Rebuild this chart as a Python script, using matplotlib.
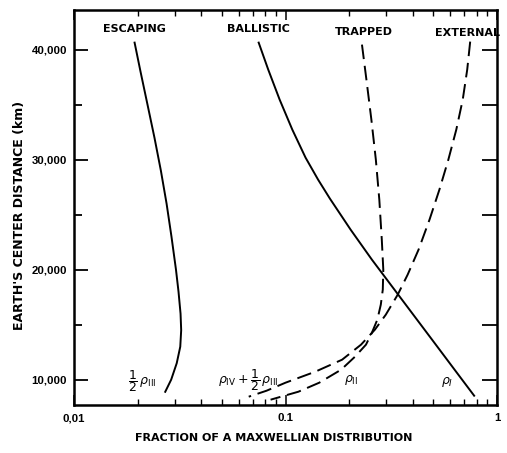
import matplotlib
matplotlib.use("Agg")
import matplotlib.pyplot as plt
from matplotlib.ticker import FixedLocator, LogLocator, NullFormatter
import numpy as np

# Fraction of a Maxwellian distribution vs. geocentric distance (km)
escaping_frac = [0.01934, 0.02063, 0.02226, 0.02401, 0.02575, 0.02740, 0.02890, 0.03035,
                 0.03120, 0.03190, 0.03212, 0.03180, 0.03060, 0.02880, 0.02700]
escaping_km = [40636, 38000, 35000, 32000, 29000, 26000, 23000, 20000,
               18000, 16000, 14500, 13000, 11500, 10000, 8900]

ballistic_frac = [0.07467, 0.08286, 0.09382, 0.1077, 0.1244, 0.1426, 0.1622,
                  0.2032, 0.2562, 0.3554, 0.4932, 0.6302, 0.7798]
ballistic_km = [40636, 38182, 35455, 32727, 30182, 28182, 26455,
                23636, 20909, 17273, 13636, 10909, 8545]

trapped_frac = [0.2299, 0.2413, 0.2547, 0.2674, 0.2777, 0.2853, 0.2900, 0.2884,
                0.2822, 0.2718, 0.2562, 0.2401, 0.2131, 0.1832, 0.1444, 0.1151, 0.0850]
trapped_km = [40455, 37273, 33636, 30000, 26364, 22727, 20000, 18182,
              16818, 15455, 14273, 13182, 12091, 10909, 9727, 8909, 8182]

external_frac = [0.7468, 0.7231, 0.6887, 0.6420, 0.5888, 0.5342, 0.4796, 0.4257, 0.3780,
                 0.3393, 0.2980, 0.2646, 0.2275, 0.1852, 0.1383, 0.1000, 0.0814, 0.0670]
external_km = [40727, 38182, 35455, 32727, 30000, 27273, 24545, 21818, 19545,
               17727, 15909, 14545, 13182, 11818, 10727, 9727, 9000, 8455]

y_ticks = [10000, 20000, 30000, 40000]
y_ticklabels = ["10,000", "20,000", "30,000", "40,000"]
x_ticks = [0.01, 0.1, 1]
x_ticklabels = ["0,01", "0.1", "1"]

W, H = 507, 453
fig = plt.figure(figsize=(W / 100, H / 100), dpi=100)
ax = fig.add_axes([74 / W, 1 - 405 / H, (497 - 74) / W, (405 - 10) / H])

ax.set_xscale("log")
ax.set_xlim(0.01, 1)
ax.set_ylim(7700, 43600)

lw = 1.4
dash = (0, (7.5, 3.5))
ax.plot(escaping_frac, escaping_km, color="black", lw=lw, solid_joinstyle="round")
ax.plot(ballistic_frac, ballistic_km, color="black", lw=lw, solid_joinstyle="round")
ax.plot(trapped_frac, trapped_km, color="black", lw=lw, linestyle=dash)
ax.plot(external_frac, external_km, color="black", lw=lw, linestyle=dash)

for s in ax.spines.values():
    s.set_linewidth(1.8)

tick_font = dict(family=["Liberation Sans", "DejaVu Sans"], weight="bold", size=8.2)

ax.yaxis.set_major_locator(FixedLocator(y_ticks))
ax.yaxis.set_minor_locator(FixedLocator([15000, 25000, 35000]))
ax.set_yticklabels(y_ticklabels, **tick_font)
ax.xaxis.set_major_locator(FixedLocator(x_ticks))
ax.xaxis.set_minor_locator(LogLocator(base=10, subs=np.arange(2, 10)))
ax.xaxis.set_minor_formatter(NullFormatter())
ax.set_xticklabels(x_ticklabels, **tick_font)

ax.tick_params(axis="both", which="both", direction="in", color="black")
ax.tick_params(axis="y", which="major", length=10, width=1.3, pad=5, left=True, right=False)
ax.tick_params(axis="y", which="minor", length=6, width=1.3, left=True, right=False)
ax.tick_params(axis="x", which="major", length=7, width=1.1, pad=6, top=True)
ax.tick_params(axis="x", which="minor", length=4, width=1.0, top=True)

# Right-hand ticks every 5,000 km
ax_r = ax.twinx()
ax_r.set_ylim(ax.get_ylim())
ax_r.yaxis.set_major_locator(FixedLocator([10000, 15000, 20000, 25000, 30000, 35000, 40000]))
ax_r.set_yticklabels([])
ax_r.tick_params(axis="y", direction="in", length=11, width=1.3)
for s in ax_r.spines.values():
    s.set_visible(False)

lab_font = dict(family="DejaVu Sans", weight="bold", size=8, color="black")
ax.text(0.0193, 41900, "ESCAPING", ha="center", va="center", **lab_font)
ax.text(0.0747, 41850, "BALLISTIC", ha="center", va="center", **lab_font)
ax.text(0.236, 41600, "TRAPPED", ha="center", va="center", **lab_font)
ax.text(0.725, 41500, "EXTERNAL", ha="center", va="center", **lab_font)

curve_font = dict(size=9, color="black")
ax.text(0.0211, 9900, r"$\dfrac{1}{2}\,\rho_{\mathrm{III}}$", ha="center", va="center", **curve_font)
ax.text(0.0670, 9950, r"$\rho_{\mathrm{IV}}+\dfrac{1}{2}\,\rho_{\mathrm{III}}$", ha="center", va="center", **curve_font)
ax.text(0.204, 10000, r"$\rho_{\mathrm{II}}$", ha="center", va="center", **curve_font)
ax.text(0.582, 9750, r"$\rho_{I}$", ha="center", va="center", **curve_font)

ax.set_xlabel("FRACTION OF A MAXWELLIAN DISTRIBUTION", fontsize=8, fontweight="bold",
              family="DejaVu Sans")
ax.xaxis.set_label_coords(0.473, -0.072)
ax.set_ylabel("EARTH'S CENTER DISTANCE (km)", fontsize=9, fontweight="bold",
              family="DejaVu Sans")
ax.yaxis.set_label_coords(-0.113, 0.481)

fig.savefig("out.png", dpi=100, facecolor="white")
